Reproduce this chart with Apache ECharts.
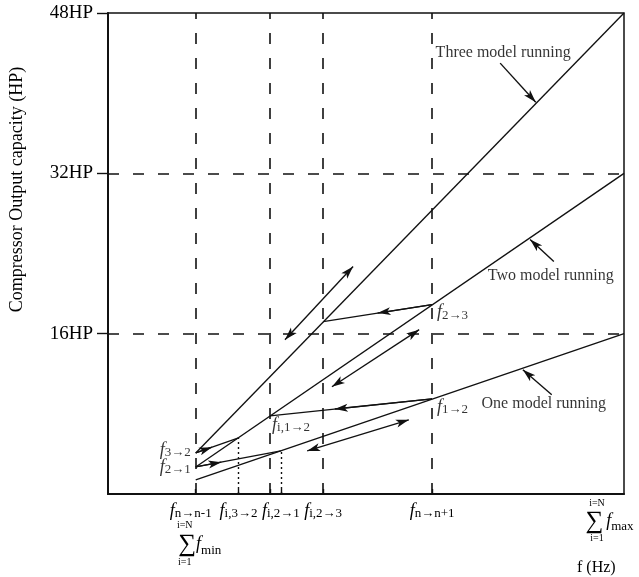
<!DOCTYPE html>
<html>
<head>
<meta charset="utf-8">
<script src="https://cdn.jsdelivr.net/npm/echarts@6/dist/echarts.min.js"></script>
<style>
  html, body { margin: 0; padding: 0; background: #fff; }
  #chart { width: 639px; height: 577px; }
</style>
</head>
<body>
<div id="chart"></div>
<script>
const SERIF = '"Liberation Serif", "Times New Roman", "DejaVu Serif", serif';
const INK = '#111';
const TEXT = '#000';

// Capacity axis (HP)
const capMin = 0;
const capMax = 48;
const capStep = 16;
const capTickValues = [16, 32, 48];

// Frequency axis, normalised so that 0..100 spans the plot width
const freqMin = 0;
const freqMax = 100;
const freqTickValues = [17, 25.3, 31.4, 33.5, 41.7, 62.8];
const freqLabelValues = [17, 25.3, 33.5, 41.7, 62.8, 100];
const freqLabelSubs = ['n→n-1', 'i,3→2', 'i,2→1', 'i,2→3', 'n→n+1', 'max'];

// Reference grid: dashed frequencies and capacities, dotted drop lines
const dashedFreqs = [17, 31.4, 41.7, 62.8];
const dashedCaps = [16, 32];
const dottedDrops = [[25.3, 5.6], [33.5, 4.3]];

// Operating lines [frequency, capacity]
const oneModel = [[17, 1.4], [100, 16]];
const twoModel = [[17, 2.7], [100, 32]];
const threeModel = [[17, 4.1], [100, 48]];

// Switching paths between operating lines
const shift3to2 = [[17, 4.1], [25.3, 5.6]];
const shift2to1 = [[17, 2.7], [33.5, 4.3]];
const shift1to2 = [[62.8, 9.5], [31.4, 7.8]];
const shift2to3 = [[62.8, 18.9], [41.7, 17.2]];

// Two-way adjustment arrows alongside each line
const band3 = [[34.3, 15.4], [47.5, 22.7]];
const band2 = [[43.4, 10.7], [60.3, 16.4]];
const band1 = [[38.6, 4.3], [58.3, 7.4]];

// Callouts naming each line
const callout3 = [[76.0, 43.0], [82.9, 39.1]];
const callout2 = [[86.4, 23.2], [81.8, 25.4]];
const callout1 = [[86.0, 9.9], [80.4, 12.4]];
const calloutNames = ['Three model running', 'Two model running', 'One model running'];

// Switching point names
const switchSubs = ['3→2', '2→1', 'i,1→2', '1→2', '2→3'];

const shifts = [shift3to2, shift2to1, shift1to2, shift2to3];
const shiftArrowAt = [0.38, 0.3, 0.6, 0.5];

function along(seg, t) {
  return [seg[0][0] + (seg[1][0] - seg[0][0]) * t, seg[0][1] + (seg[1][1] - seg[0][1]) * t];
}

const mathRich = {
  f: { fontFamily: SERIF, fontStyle: 'italic', fontSize: 18, lineHeight: 18, color: TEXT, verticalAlign: 'bottom' },
  sub: { fontFamily: SERIF, fontSize: 13, lineHeight: 10, color: TEXT, verticalAlign: 'bottom' },
  fa: { fontFamily: SERIF, fontStyle: 'italic', fontSize: 18, lineHeight: 22, color: TEXT, verticalAlign: 'bottom' },
  suba: { fontFamily: SERIF, fontSize: 13, lineHeight: 10, color: TEXT, verticalAlign: 'bottom', padding: [0, 10, 0, 0] },
  lim: { fontFamily: SERIF, fontSize: 10, lineHeight: 11, color: TEXT, padding: [0, 22, 0, 0] },
  sig: { fontFamily: SERIF, fontSize: 25, lineHeight: 26, color: TEXT, padding: [0, 0, 0, 8] },
  fs: { fontFamily: SERIF, fontStyle: 'italic', fontSize: 18, lineHeight: 22, color: TEXT },
  subs: { fontFamily: SERIF, fontSize: 13, lineHeight: 14, color: TEXT, verticalAlign: 'bottom' },
  limR: { fontFamily: SERIF, fontSize: 10, lineHeight: 11, color: TEXT, padding: [0, 54, 0, 0] },
  sigR: { fontFamily: SERIF, fontSize: 25, lineHeight: 24, color: TEXT },
  fsR: { fontFamily: SERIF, fontStyle: 'italic', fontSize: 18, lineHeight: 22, color: TEXT, padding: [0, 0, 0, 3] },
  subR: { fontFamily: SERIF, fontSize: 13, lineHeight: 14, color: TEXT, verticalAlign: 'bottom', padding: [0, 29, 0, 0] }
};

function freqLabel(v) {
  const i = freqLabelValues.findIndex(x => Math.abs(x - v) < 1e-6);
  if (i < 0) return '';
  const s = freqLabelSubs[i];
  if (s === 'max') {
    return '{limR|i=N}\n{sigR|∑}{fsR|f}{subR|max}\n{limR|i=1}';
  }
  if (i === 0) {
    return '{fa|f}{suba|' + s + '}\n{lim|i=N}\n{sig|∑}{fs|f}{subs|min}\n{lim|i=1}';
  }
  return '{fa|f}{sub|' + s + '}';
}

const chart = echarts.init(document.getElementById('chart'), null, { renderer: 'canvas' });

const markLineData = [
  ...dashedFreqs.map(x => ({ xAxis: x })),
  ...dashedCaps.map(y => ({ yAxis: y })),
  ...dottedDrops.map(p => [
    { coord: [p[0], capMin], lineStyle: { type: [2, 3], width: 1.4 } },
    { coord: [p[0], p[1]] }
  ])
];

const lineStyleMain = { color: INK, width: 1.35 };

const labelPoints = [
  { value: shift3to2[0], label: { formatter: '{f|f}{sub|' + switchSubs[0] + '}', position: 'left', distance: 5, offset: [0, -3] } },
  { value: shift2to1[0], label: { formatter: '{f|f}{sub|' + switchSubs[1] + '}', position: 'left', distance: 5, offset: [0, 0] } },
  { value: shift1to2[1], label: { formatter: '{f|f}{sub|' + switchSubs[2] + '}', position: 'bottom', align: 'left', distance: 0, offset: [2, 0] } },
  { value: shift1to2[0], label: { formatter: '{f|f}{sub|' + switchSubs[3] + '}', position: 'right', distance: 5, offset: [0, 8] } },
  { value: shift2to3[0], label: { formatter: '{f|f}{sub|' + switchSubs[4] + '}', position: 'right', distance: 5, offset: [0, 8] } },
  { value: callout3[0], label: { formatter: calloutNames[0], position: 'top', distance: 2, offset: [3, 0] } },
  { value: callout2[0], label: { formatter: calloutNames[1], position: 'bottom', distance: 6, offset: [-3, 0] } },
  { value: callout1[0], label: { formatter: calloutNames[2], position: 'bottom', distance: 1, offset: [-8, 0] } }
];

chart.setOption({
  animation: false,
  backgroundColor: '#fff',
  grid: {
    left: 108, right: 15, top: 13, bottom: 83,
    outerBoundsMode: 'none', containLabel: false,
    show: true, borderColor: INK, borderWidth: 1.5, backgroundColor: 'transparent'
  },
  xAxis: {
    type: 'value',
    min: freqMin,
    max: freqMax,
    name: 'f (Hz)',
    nameLocation: 'end',
    nameGap: -47,
    nameTextStyle: { fontFamily: SERIF, fontSize: 16, color: TEXT, align: 'left', verticalAlign: 'top', padding: [66, 0, 0, 0] },
    axisLine: { show: true, onZero: false, lineStyle: { color: INK, width: 2 } },
    axisTick: { show: true, inside: true, length: 5, customValues: freqTickValues, lineStyle: { color: INK, width: 1.4 } },
    axisLabel: {
      show: true,
      // an empty label at the origin keeps the min-label overlap check off the stacked first label
      customValues: [freqMin, ...freqLabelValues],
      formatter: freqLabel, rich: mathRich,
      margin: 4, color: TEXT, hideOverlap: false, showMinLabel: true, showMaxLabel: true
    },
    splitLine: { show: false }
  },
  yAxis: {
    type: 'value',
    min: capMin,
    max: capMax,
    interval: capStep,
    name: 'Compressor Output capacity (HP)',
    nameLocation: 'middle',
    nameGap: 82,
    nameTextStyle: { fontFamily: SERIF, fontSize: 18, color: TEXT, padding: [0, 0, 0, 128] },
    axisLine: { show: true, onZero: false, lineStyle: { color: INK, width: 2 } },
    axisTick: { show: true, inside: false, length: 11, customValues: capTickValues, lineStyle: { color: INK, width: 1.4 } },
    axisLabel: {
      show: true, customValues: capTickValues, formatter: v => v + 'HP',
      fontFamily: SERIF, fontSize: 19, color: TEXT, margin: 15, hideOverlap: false
    },
    splitLine: { show: false }
  },
  series: [
    {
      name: calloutNames[0], type: 'line', data: threeModel, symbol: 'none', lineStyle: lineStyleMain, z: 3,
      markLine: {
        silent: true, symbol: ['none', 'none'], label: { show: false },
        lineStyle: { color: INK, type: [11, 14], width: 1.6 },
        emphasis: { disabled: true },
        data: markLineData
      }
    },
    { name: calloutNames[1], type: 'line', data: twoModel, symbol: 'none', lineStyle: lineStyleMain, z: 3 },
    { name: calloutNames[2], type: 'line', data: oneModel, symbol: 'none', lineStyle: lineStyleMain, z: 3 },
    {
      name: 'switching', type: 'lines', coordinateSystem: 'cartesian2d', z: 4, silent: true,
      symbol: ['none', 'none'],
      lineStyle: { color: INK, width: 1.35, opacity: 1 },
      data: shifts.map(s => ({ coords: s }))
    },
    {
      name: 'switching direction', type: 'lines', coordinateSystem: 'cartesian2d', z: 4, silent: true,
      symbol: ['none', 'arrow'], symbolSize: [[6, 13], [6, 13]],
      lineStyle: { color: INK, width: 1.35, opacity: 1 },
      itemStyle: { color: INK },
      data: shifts.map((s, i) => ({ coords: [s[0], along(s, shiftArrowAt[i])] }))
    },
    {
      name: 'adjustment', type: 'lines', coordinateSystem: 'cartesian2d', z: 4, silent: true,
      symbol: ['arrow', 'arrow'], symbolSize: [[6, 13], [6, 13]],
      lineStyle: { color: INK, width: 1.35, opacity: 1 },
      itemStyle: { color: INK },
      data: [band3, band2, band1].map(s => ({ coords: s }))
    },
    {
      name: 'callouts', type: 'lines', coordinateSystem: 'cartesian2d', z: 4, silent: true,
      symbol: ['none', 'arrow'], symbolSize: [[6, 13], [6, 13]],
      lineStyle: { color: INK, width: 1.4, opacity: 1 },
      itemStyle: { color: INK },
      data: [callout3, callout2, callout1].map(s => ({ coords: s }))
    },
    {
      name: 'labels', type: 'scatter', symbolSize: 0, z: 5, silent: true,
      itemStyle: { color: 'transparent' },
      label: { show: true, fontFamily: SERIF, fontSize: 16, color: TEXT, rich: mathRich },
      data: labelPoints
    }
  ]
});
</script>
</body>
</html>
